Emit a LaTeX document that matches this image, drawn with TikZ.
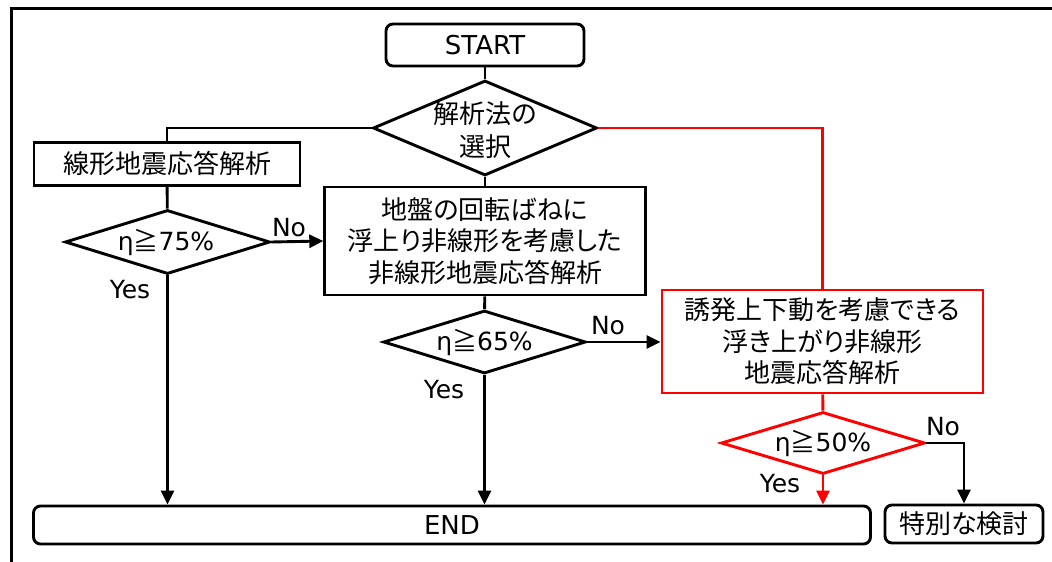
\documentclass[tikz,border=0pt]{standalone}
\usepackage{fontspec}
\setmainfont{Noto Sans CJK JP}[RawFeature=+palt]
\newfontfamily\lat{DejaVu Sans}
\usetikzlibrary{shapes.geometric,arrows.meta}
\begin{document}
\begin{tikzpicture}[x=1pt,y=-1pt,line width=2.9pt,
  font=\fontsize{26}{31.5}\selectfont,
  box/.style={draw,rectangle,inner sep=0pt,align=center},
  rbox/.style={box,rounded corners=7pt},
  dia/.style={draw,diamond,inner sep=0pt},
  txt/.style={inner sep=0pt,align=center},
  ltxt/.style={txt,font=\fontsize{25}{31}\selectfont\lat},
  arr/.style={-{Triangle[length=14pt,width=13pt]}}]
\useasboundingbox (0,0) rectangle (1052,562);
\draw[line width=2.2pt] (11.5,562) -- (11.5,8.5) -- (1052,8.5);
% nodes
\node[rbox,minimum width=198pt,minimum height=42pt] (start) at (485,45) {\lat START};
\node[dia,minimum width=224pt,minimum height=95pt] (sel) at (485,128) {};
\node[txt,font=\fontsize{26}{33}\selectfont] (selt) at (485,130) {解析法の\\選択};
\node[box,minimum width=266pt,minimum height=43pt] (lin) at (167,164) {線形地震応答解析};
\node[dia,minimum width=205pt,minimum height=64pt] (d75) at (167.5,242) {};
\node[ltxt] (d75t) at (166,243) {η{\fontspec{Noto Sans CJK JP}≧}75\%};
\node[box,minimum width=320.5pt,minimum height=108pt] (nl) at (485,241) {地盤の回転ばねに\\浮上り非線形を考慮した\\非線形地震応答解析};
\node[dia,minimum width=202.5pt,minimum height=63pt] (d65) at (484.5,342) {};
\node[ltxt] (d65t) at (484.5,343) {η{\fontspec{Noto Sans CJK JP}≧}65\%};
\node[box,draw=red,minimum width=321pt,minimum height=103pt] (up) at (822.5,341.5) {誘発上下動を考慮できる\\浮き上がり非線形\\地震応答解析};
\node[dia,draw=red,minimum width=204pt,minimum height=62pt] (d50) at (823,443) {};
\node[ltxt] (d50t) at (823,444) {η{\fontspec{Noto Sans CJK JP}≧}50\%};
\node[rbox,minimum width=837pt,minimum height=38pt] (end) at (452,525) {\lat END};
\node[rbox,minimum width=158pt,minimum height=38pt] (sp) at (964,524) {特別な検討};
% labels
\node[ltxt] (no75) at (289,228) {No};
\node[ltxt] (yes75) at (130,290) {Yes};
\node[ltxt] (yes65) at (444,390) {Yes};
\node[ltxt] (no65) at (608,326) {No};
\node[ltxt] (yes50) at (780,484) {Yes};
\node[ltxt] (no50) at (943,427) {No};
% connectors
\draw (start) -- (sel);
\draw (sel.west) -| (lin.north);
\draw (sel) -- (nl);
\draw[red] (sel.east) -| (up.north);
\draw (lin) -- (d75);
\draw[arr] (d75.east) -- (nl.west);
\draw[arr] (d75.south) -- (d75.south |- end.north);
\draw (nl) -- (d65);
\draw[arr] (d65.south) -- (d65.south |- end.north);
\draw[arr] (d65.east) -- (d65.east -| up.west);
\draw[red] (up) -- (d50);
\draw[red,arr] (d50.south) -- (d50.south |- end.north);
\draw[arr] (d50.east) -| (sp.north);
\end{tikzpicture}
\end{document}
